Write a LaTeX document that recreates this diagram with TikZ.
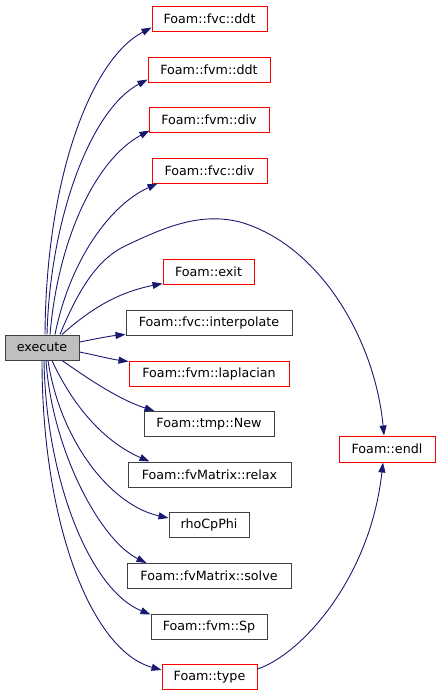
\documentclass[tikz,border=0pt]{standalone}
\usepackage{fontspec}
\setmainfont{DejaVu Sans}
\usetikzlibrary{arrows.meta}
\definecolor{edgeblue}{HTML}{191970}
\definecolor{boxred}{HTML}{FF0000}
\definecolor{boxgray}{HTML}{404040}
\definecolor{fillgray}{HTML}{BFBFBF}
\begin{document}
\begin{tikzpicture}[x=1pt,y=-1pt,
  box/.style={draw=boxgray,line width=1pt,minimum height=25pt,inner sep=0pt,font=\fontsize{12.7}{15}\selectfont},
  redbox/.style={box,draw=boxred},
  curbox/.style={box,fill=fillgray},
  edge/.style={draw=edgeblue,line width=0.9pt,-{Triangle[length=10pt,width=7pt]}}
]
\useasboundingbox (0,0) rectangle (440,696);
\node[curbox,minimum width=74pt] (exe) at (42,347.5) {execute};
\node[redbox,minimum width=115pt] (fvcddt) at (209.5,18.5) {Foam::fvc::ddt};
\node[redbox,minimum width=122pt] (fvmddt) at (209,69.5) {Foam::fvm::ddt};
\node[redbox,minimum width=120pt] (fvmdiv) at (209,120) {Foam::fvm::div};
\node[redbox,minimum width=115pt] (fvcdiv) at (209.5,170.5) {Foam::fvc::div};
\node[redbox,minimum width=91pt] (exit) at (208.5,271.5) {Foam::exit};
\node[box,minimum width=166pt] (interp) at (209,322.5) {Foam::fvc::interpolate};
\node[redbox,minimum width=160pt] (lapl) at (209,373.5) {Foam::fvm::laplacian};
\node[box,minimum width=130pt] (new) at (209,424) {Foam::tmp::New};
\node[box,minimum width=163pt] (relax) at (209.5,474.5) {Foam::fvMatrix::relax};
\node[box,minimum width=80pt] (rho) at (209,525) {rhoCpPhi};
\node[box,minimum width=164pt] (solve) at (209,576) {Foam::fvMatrix::solve};
\node[box,minimum width=116pt] (sp) at (209,626.5) {Foam::fvm::Sp};
\node[redbox,minimum width=95pt] (type) at (209.5,677) {Foam::type};
\node[redbox,minimum width=96pt,minimum height=26pt] (endl) at (387,449) {Foam::endl};

\draw[edge] ([xshift=3pt]exe.north) .. controls (46,180) and (90,60) .. ([yshift=4pt]fvcddt.south west);
\draw[edge] ([xshift=5pt]exe.north) .. controls (50,220) and (90,110) .. ([yshift=3pt]fvmddt.south west);
\draw[edge] ([xshift=8pt]exe.north) .. controls (58,240) and (95,160) .. ([xshift=1pt,yshift=2.5pt]fvmdiv.south west);
\draw[edge] ([xshift=13pt]exe.north) .. controls (70,260) and (110,205) .. ([xshift=6pt]fvcdiv.south west);
\draw[edge] ([xshift=18pt]exe.north) .. controls (80,285) and (100,258) .. (125,246)
  .. controls (165,227) and (200,212) .. (240,222)
  .. controls (320,245) and (375,340) .. ([xshift=-3pt]endl.north);
\draw[edge] ([xshift=20pt]exe.north) .. controls (100,300) and (130,290) .. ([yshift=1pt]exit.south west);
\draw[edge] ([yshift=5.5pt]exe.east) .. controls (95,339) and (110,336) .. ([yshift=1pt]interp.south west);
\draw[edge] ([yshift=-4.5pt]exe.east) .. controls (95,355) and (110,359) .. ([yshift=-1pt]lapl.north west);
\draw[edge] ([xshift=20pt]exe.south) .. controls (90,380) and (120,400) .. ([xshift=11pt]new.north west);
\draw[edge] ([xshift=10pt]exe.south) .. controls (70,400) and (100,440) .. ([xshift=22pt]relax.north west);
\draw[edge] ([xshift=6pt]exe.south) .. controls (60,440) and (110,505) .. ([yshift=7pt]rho.west);
\draw[edge] ([xshift=4pt]exe.south) .. controls (52,450) and (100,540) .. ([xshift=20pt]solve.north west);
\draw[edge] ([xshift=2pt]exe.south) .. controls (46,480) and (90,590) .. ([yshift=-1pt]sp.north west);
\draw[edge] (exe.south) .. controls (42,520) and (90,650) .. ([yshift=7pt]type.west);
\draw[edge] ([yshift=8pt]type.east) .. controls (300,655) and (370,580) .. ([xshift=-4pt]endl.south);
\end{tikzpicture}
\end{document}
